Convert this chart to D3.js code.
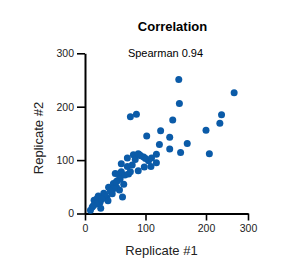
<!DOCTYPE html>
<html><head><meta charset="utf-8">
<script src="https://cdn.jsdelivr.net/npm/d3@7"></script>
<style>body{margin:0;background:#fff}svg{display:block;font-family:"Liberation Sans",Arial,Helvetica,sans-serif}</style>
</head><body>
<script>
const xValues = [155,156,267,75,85,237,233,145,200,102,125,140,123,140,169,158,208,118,118,109,98,88,105,97,90,80,70,83,78,70,72,60,88,100,
  9,12,15,22,25,26,31,36,38,44,39,47,50,56,54,58,52,57,64,62,48,45,20,18,60,66,52,42,33,28,14,75,92,110];
const yValues = [251,206,226,181,186,185,169,175,156,145,155,143,129,121,131,114,112,111,95,88,87,80,99,106,110,110,104,101,91,88,74,93,112,103,
  6,12,25,33,21,10,38,30,24,44,49,56,75,74,62,65,49,44,55,31,47,37,28,18,78,72,60,42,35,27,15,78,108,104];
const xTicks = [0,100,200,300];
const yTicks = [0,100,200,300];
const title = "Correlation";
const subtitle = "Spearman 0.94";
const xLabel = "Replicate #1";
const yLabel = "Replicate #2";

const svg = d3.select("body").append("svg").attr("width",306).attr("height",275);
const x = d3.scaleLinear().domain([0,100,200,300]).range([85,145.5,206,248]);
const y = d3.scaleLinear().domain([0,300]).range([213.5,53.3]);

const xa = svg.append("g").attr("transform","translate(0,213.5)")
  .call(d3.axisBottom(x).tickValues(xTicks).tickSize(7).tickSizeOuter(0).tickPadding(4));
const ya = svg.append("g").attr("transform","translate(85,0)")
  .call(d3.axisLeft(y).tickValues(yTicks).tickSize(8).tickSizeOuter(0).tickPadding(3));
[xa,ya].forEach(a=>{
  a.select(".domain").attr("stroke","#000").attr("stroke-width",2);
  a.selectAll(".tick line").attr("stroke","#000").attr("stroke-width",1.6);
  a.selectAll(".tick text").attr("font-size",10.5).attr("fill","#222").attr("font-family","Liberation Sans, Arial, sans-serif");
});

svg.append("g").selectAll("circle").data(xValues.map((v,i)=>[v,yValues[i]])).join("circle")
  .attr("cx",d=>x(d[0])).attr("cy",d=>y(d[1])).attr("r",3.5).attr("fill","#0b5ba8");

svg.append("text").attr("x",172.5).attr("y",31).attr("text-anchor","middle")
  .attr("font-size",13).attr("font-weight","bold").text(title);
svg.append("text").attr("x",165.5).attr("y",56.5).attr("text-anchor","middle")
  .attr("font-size",11).text(subtitle);
svg.append("text").attr("x",161.5).attr("y",254.5).attr("text-anchor","middle")
  .attr("font-size",13).attr("fill","#222").text(xLabel);
svg.append("text").attr("transform","translate(43,138) rotate(-90)").attr("text-anchor","middle")
  .attr("font-size",13).attr("fill","#222").text(yLabel);
</script>
</body></html>
